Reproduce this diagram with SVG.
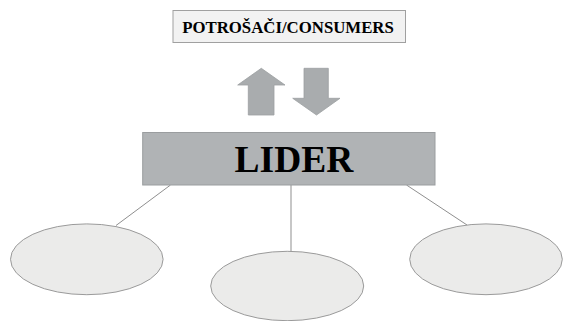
<svg xmlns="http://www.w3.org/2000/svg" width="585" height="321" viewBox="0 0 585 321">
<style>
.ell{fill:#ebebea;stroke:#9a9a9a;stroke-width:1}
.con{stroke:#8f8f8f;stroke-width:1;fill:none}
.arr{fill:#a9acae;stroke:#9c9fa1;stroke-width:0.8}
.t{font-family:"Liberation Serif",serif;font-weight:bold;fill:#000}
</style>
<rect width="585" height="321" fill="#fff"/>
<g id="connectors">
<line class="con" x1="170.5" y1="185" x2="116" y2="225.5"/>
<line class="con" x1="291" y1="185" x2="291" y2="251"/>
<line class="con" x1="406.5" y1="185" x2="467" y2="225"/>
<polygon class="arr" points="261.3,68.3 285,85 274,85 274,115 248.3,115 248.3,85 237.7,85"/>
<polygon class="arr" points="304,68.3 328.3,68.3 328.3,98.3 340,98.3 316.5,115 292.7,98.3 304,98.3"/>
</g>
<g id="consumers">
<rect x="173" y="10.5" width="232.5" height="32" fill="#f2f2f2" stroke="#a0a0a0" stroke-width="1"/>
<text class="t" x="288" y="33" font-size="16.8" text-anchor="middle">POTROŠAČI/CONSUMERS</text>
</g>
<g id="lider">
<rect x="142.7" y="132.5" width="292.3" height="52.5" fill="#b0b3b5" stroke="#9a9d9f" stroke-width="1"/>
<text class="t" x="294" y="171.7" font-size="37.5" text-anchor="middle">LIDER</text>
</g>
<g id="ellipse-left"><ellipse class="ell" cx="86.8" cy="259.3" rx="76.3" ry="35.4"/></g>
<g id="ellipse-middle"><ellipse class="ell" cx="287.2" cy="286" rx="76.5" ry="34.7"/></g>
<g id="ellipse-right"><ellipse class="ell" cx="486" cy="259.3" rx="76.3" ry="35.4"/></g>
</svg>
